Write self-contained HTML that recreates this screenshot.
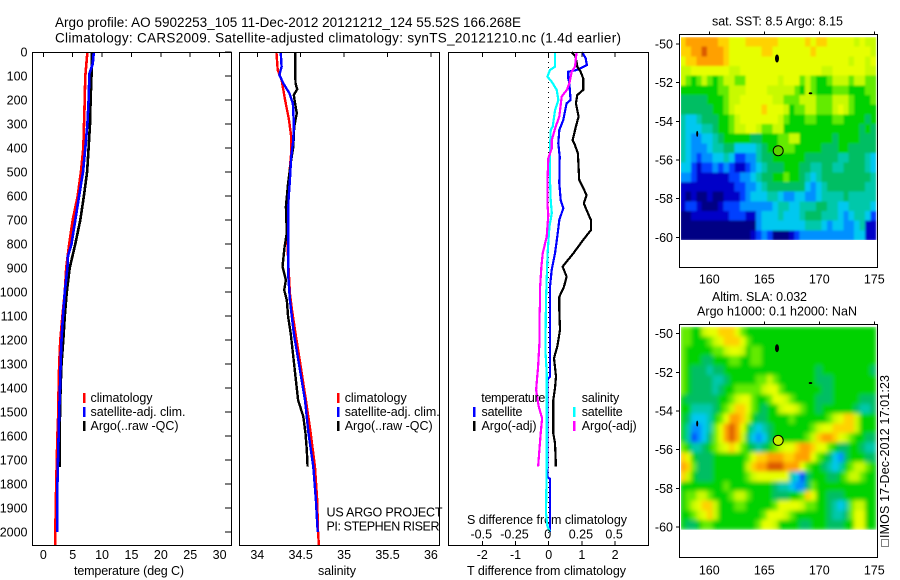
<!DOCTYPE html>
<html>
<head>
<meta charset="utf-8">
<title>Argo profile</title>
<style>
html,body{margin:0;padding:0;background:#fff;}
svg{display:block;font-family:"Liberation Sans",sans-serif;}
text{fill:#000;}
</style>
</head>
<body>
<svg id="chart" xmlns="http://www.w3.org/2000/svg" width="900" height="580" viewBox="0 0 900 580">
<defs>
<filter id="soft1" x="0" y="0" width="1" height="1"><feGaussianBlur stdDeviation="1" edgeMode="duplicate"/></filter>
<filter id="soft2" x="0" y="0" width="1" height="1"><feGaussianBlur stdDeviation="2.2" edgeMode="duplicate"/></filter>
<clipPath id="clip1"><rect x="681" y="37" width="196.5" height="203"/></clipPath>
<clipPath id="clip2"><rect x="681" y="326.7" width="196.5" height="203"/></clipPath>
</defs>
<rect width="900" height="580" fill="#fff"/>
<text x="55" y="27" font-size="13.5" textLength="466" lengthAdjust="spacing">Argo profile: AO 5902253_105 11-Dec-2012 20121212_124 55.52S 166.268E</text>
<text x="55" y="42.5" font-size="13.5" textLength="566" lengthAdjust="spacing">Climatology: CARS2009. Satellite-adjusted climatology: synTS_20121210.nc (1.4d earlier)</text>
<text x="712" y="25.5" font-size="12.5" textLength="131" lengthAdjust="spacing">sat. SST: 8.5 Argo: 8.15</text>
<text x="712" y="301" font-size="12.5" textLength="95" lengthAdjust="spacing">Altim. SLA: 0.032</text>
<text x="697" y="315.5" font-size="12.5" textLength="160" lengthAdjust="spacing">Argo h1000: 0.1 h2000: NaN</text>
<text x="326.5" y="516.5" font-size="12.5" textLength="116" lengthAdjust="spacing">US ARGO PROJECT</text>
<text x="326.5" y="530.5" font-size="12.5" textLength="113" lengthAdjust="spacing">PI: STEPHEN RISER</text>
<text x="467" y="524" font-size="12.5" textLength="160" lengthAdjust="spacing">S difference from climatology</text>
<text x="467" y="575" font-size="12.5" textLength="159" lengthAdjust="spacing">T difference from climatology</text>
<text x="74" y="575" font-size="12.5" textLength="110" lengthAdjust="spacing">temperature (deg C)</text>
<text x="318" y="575" font-size="12.5" textLength="38" lengthAdjust="spacing">salinity</text>
<text transform="translate(889 538) rotate(-90)" font-size="12.5" textLength="163" lengthAdjust="spacing">IMOS 17-Dec-2012 17:01:23</text>
<rect x="881.5" y="539.5" width="7" height="7" fill="none" stroke="#000" stroke-width="1" stroke-dasharray="1 1"/>
</svg>
<script>
// ---- Panel 1: temperature profiles (depth, deg C) ----
const climTempDepth = [0,100,250,400,500,600,700,800,900,1000,1100,1200,1300,1400,1500,1600,1800,2000,2055];
const climTemp = [7.5,7.15,7.0,6.8,6.4,5.85,5.0,4.4,3.9,3.65,3.25,2.9,2.7,2.6,2.55,2.4,2.2,2.05,2.0];
const satTempDepth = [0,50,90,200,300,400,500,600,700,800,850,900,1000,1100,1200,1300,1400,1500,1600,1700,1800,2000];
const satTemp = [8.6,8.4,7.85,7.7,7.5,7.15,6.75,6.1,5.45,4.8,4.2,4.1,3.65,3.35,3.1,2.95,2.85,2.7,2.6,2.5,2.4,2.4];
const argoTempDepth = [0,100,200,300,400,500,600,700,800,900,1000,1100,1200,1300,1400,1500,1600,1730];
const argoTemp = [8.25,8.2,8.05,7.95,7.7,7.45,6.9,6.3,5.45,4.5,4.0,3.65,3.4,3.1,2.95,2.85,2.8,2.8];

// ---- Panel 2: salinity profiles ----
const climSalDepth = [0,75,117,200,283,353,421,505,617,783,895,1005,1075,1172,1310,1450,1588,1730,1867,2005,2055];
const climSal = [34.22,34.235,34.28,34.32,34.365,34.39,34.39,34.37,34.345,34.345,34.36,34.375,34.40,34.44,34.5,34.56,34.615,34.665,34.69,34.70,34.71];
const satSalDepth = [0,61,96,130,172,214,297,367,436,533,617,783,922,1033,1172,1311,1450,1589,1728,1867,1992,2000];
const satSal = [34.27,34.28,34.255,34.30,34.37,34.41,34.42,34.415,34.39,34.375,34.36,34.355,34.355,34.375,34.42,34.485,34.55,34.59,34.645,34.675,34.695,34.695];
const argoSalDepth = [0,130,155,179,214,255,311,394,464,547,644,755,811,894,950,992,1033,1103,1172,1269,1353,1450,1519,1589,1658,1728];
const argoSal = [34.435,34.44,34.46,34.42,34.435,34.455,34.425,34.415,34.385,34.355,34.33,34.34,34.315,34.29,34.33,34.31,34.34,34.355,34.385,34.415,34.44,34.47,34.53,34.555,34.57,34.58];

// ---- Panel 3: differences from climatology ----
const diffSatTDepth = [0,25,55,75,82,110,130,200,214,283,325,381,436,547,617,651,700,769,839,908,978,1075,1172,1352,1366,1769,1779,1999];
const diffSatT = [1.0,1.11,1.15,0.84,0.59,0.59,0.62,0.66,0.54,0.44,0.32,0.29,0.33,0.32,0.36,0.44,0.32,0.26,0.19,0.09,0.04,0.04,0.04,0.04,-0.04,-0.04,0.04,0.04];
const diffArgoTDepth = [0,19,61,82,110,158,179,214,269,311,367,381,422,533,561,596,631,658,700,742,783,839,894,936,978,1020,1075,1158,1227,1276,1352,1401,1450,1589,1630,1700,1728];
const diffArgoT = [0.69,0.81,0.86,0.96,1.04,1.04,0.86,0.82,0.90,0.82,0.72,0.77,0.88,0.92,1.02,1.14,1.06,1.14,1.27,1.27,1.04,0.74,0.42,0.54,0.46,0.32,0.32,0.34,0.26,0.16,0.22,0.19,0.14,0.14,0.19,0.21,0.21];
const diffSatSDepth = [0,61,75,103,124,158,200,242,311,325,408,533,617,672,728,839,1033,1241,1339,1728,1922,1977,1998];
const diffSatS = [0.048,0.048,0.01,-0.01,0.023,0.06,0.073,0.048,0.03,0.015,0.01,0.01,0.015,0.023,0.005,-0.008,-0.02,-0.025,-0.015,-0.015,-0.02,-0.01,0.01];
const diffArgoSDepth = [0,61,82,130,158,186,269,318,367,401,443,547,631,679,769,839,894,978,1033,1116,1214,1311,1408,1477,1526,1589,1658,1728];
const diffArgoS = [0.21,0.198,0.173,0.156,0.136,0.098,0.08,0.048,0.023,0.023,-0.003,-0.01,-0.01,-0.003,-0.015,-0.045,-0.055,-0.065,-0.065,-0.07,-0.07,-0.08,-0.095,-0.075,-0.05,-0.06,-0.07,-0.08];

// ---- Tick labels ----
const depthTicks = [0,100,200,300,400,500,600,700,800,900,1000,1100,1200,1300,1400,1500,1600,1700,1800,1900,2000];
const tempTicks = [0,5,10,15,20,25,30];
const salTicks = [34,34.5,35,35.5,36];
const tDiffTicks = [-2,-1,0,1,2];
const sDiffTicks = [-0.5,-0.25,0,0.25,0.5];
const sDiffTickText = ["-0.5","-0.25","0","0.25","0.5"];
const lonTicks = [160,165,170,175];
const latTicks = [-50,-52,-54,-56,-58,-60];

// ---- Map cells: one hex digit per 0.5 degree cell, index into the colour scale ----
const sstRows = [
"bccccc cbbaaa bbbbbb aaaaab abbaaa aa9a99",
"bbccdc ccbaaa aaabba aaaaaa baaaaa aaaaa9",
"abbccc ccbaaa aaaaaa aaaaaa aaaaaa a9aa9a",
"99aaaa aaa99a aaaaaa aaaaaa aa99aa aaaa99",
"987898 789988 aaaaaa 9aaa89 877899 989988",
"777777 788999 aaaa99 999879 877788 877788",
"666667 77899a aaaaa9 988899 988899 987778",
"666666 7789aa aaabaa a97889 98889a 987777",
"544566 67789a aaaaaa 987778 877788 777767",
"544455 677899 aa9889 977777 777777 777676",
"543344 567777 766777 889977 777767 777666",
"543334 556644 445677 888777 776667 766666",
"543233 445422 335667 777776 666665 566654",
"442122 323211 234566 677766 556655 666654",
"332111 111223 345667 787765 456666 666665",
"111111 111122 334566 666664 345666 666655",
"101001 001112 344455 433443 345555 655555",
"122100 012223 333334 554455 566554 455554",
"001111 111222 113444 544456 665554 345542",
"000000 000000 003444 444445 554344 334511",
"000000 000000 012320 001233 333333 334411"
];
const slaRows = [
"88779a abbba8 777777 777777 777777 777777",
"887778 9abbba 877777 777777 777777 777777",
"877777 889aa9 788777 777777 777777 777777",
"877766 777887 788777 777777 777777 777777",
"876665 667777 777777 777777 767777 777776",
"876666 556777 778898 777777 766677 777777",
"876666 567788 8889aa 877777 776677 777777",
"766666 67789a a8778a a98777 766677 777666",
"775555 6789bb a87677 9aa987 767777 776556",
"764445 78accb 976677 778777 77789a bb9777",
"753345 8acdca 754567 777777 89aabb bb9777",
"752346 8acdc9 643467 777778 9bccba 987766",
"875567 89aba8 765678 9aabcc baa876 677655",
"ba7666 777777 8abbcc cbbccc a87643 677766",
"cb8666 777777 9bccdd dccca8 776545 789987",
"b97666 777777 89aaaa aa5426 777667 899877",
"777777 778777 777776 554336 877777 777777",
"788998 777899 877776 66778b a77666 777777",
"789abb 977788 777778 aaaa98 877654 589977",
"7789ab 977777 7778aa a98777 777655 68aa77",
"766788 777777 778aa9 777766 777666 77aa77"
];
const colorScale = ["#000084","#0000c8","#0040ff","#0090ff","#00c8f0","#00c8aa","#00be64","#00d200","#64eb00","#c8fa00","#e6ff00","#ffd200","#ffa000","#dc5a00"];

// ---- Argo float positions and coastline specks on the maps ----
const floatLon = 166.268;
const floatLat = -55.52;
const islandLon = [166.15,169.2,158.9];
const islandLat = [-50.75,-52.55,-54.65];

const NS = "http://www.w3.org/2000/svg";
const svg = document.getElementById("chart");
const plotTop = 52;
const yPerDepth = 0.24;
function yDepth(d){ return plotTop + d*yPerDepth; }
function xTemp(t){ return 43.3 + t*5.877; }
function xSal(s){ return 257.3 + (s-34)*86.8; }
function xT(t){ return 548.7 + t*33.2; }
function xS(s){ return 548.7 + s*132.8; }
function xLon(l){ return 709.3 + (l-160)*11; }
function yLat1(l){ return 44 + (-50-l)*19.33; }
function yLat2(l){ return 333.7 + (-50-l)*19.33; }

function make(tag, attrs){
  const el = document.createElementNS(NS, tag);
  for(const k in attrs){ el.setAttribute(k, attrs[k]); }
  svg.appendChild(el);
  return el;
}
function drawProfile(depths, values, xFn, color, width, name){
  const pts = depths.map(function(d,i){ return xFn(values[i]).toFixed(1)+","+yDepth(d).toFixed(1); }).join(" ");
  const el = make("polyline",{points:pts,fill:"none",stroke:color,"stroke-width":width,"shape-rendering":"crispEdges"});
  
  
}
function label(x,y,str,anchor,size,len,name){
  const el = make("text",{x:x,y:y,"font-size":size,"text-anchor":anchor});
  if(len){ el.setAttribute("textLength",len); el.setAttribute("lengthAdjust","spacing"); }
  el.textContent = str;
  
  
}
function tick(x1,y1,x2,y2,name){
  const el = make("line",{x1:x1,y1:y1,x2:x2,y2:y2,stroke:"#000","stroke-width":1,"shape-rendering":"crispEdges"});
  
  
}
function frame(x,y,w,h,name){
  const el = make("rect",{x:x,y:y,width:w,height:h,fill:"none",stroke:"#000","stroke-width":1,"shape-rendering":"crispEdges"});
  
  
}
function legendKey(x,y,color,name){
  const el = make("rect",{x:x-1,y:y,width:2.5,height:10,fill:color,"shape-rendering":"crispEdges"});
  
  
}
function drawMap(rows, yFn, name, clipId, filterId){
  const outer = make("g",{"clip-path":"url(#"+clipId+")"});
  
  
  const group = make("g",{filter:"url(#"+filterId+")"});
  
  
  outer.appendChild(group);
  const lonStart = 157.33, lonStep = 0.495, latStart = -49.64, latStep = 0.5;
  rows.forEach(function(row,j){
    const cells = row.replace(/ /g,"");
    for(let i=0;i<cells.length;i++){
      const x0 = xLon(lonStart+i*lonStep), x1 = xLon(lonStart+(i+1)*lonStep);
      const y0 = yFn(latStart-j*latStep), y1 = yFn(latStart-(j+1)*latStep);
      const el = make("rect",{x:x0.toFixed(2),y:y0.toFixed(2),width:(x1-x0+0.4).toFixed(2),height:(y1-y0+0.4).toFixed(2),fill:colorScale[parseInt(cells[i],16)],"shape-rendering":"crispEdges"});
      
      
      group.appendChild(el);
    }
  });
}
function drawMapOverlay(yFn, top, bottom, fill, prefix, labelGap){
  islandLon.forEach(function(lon,i){
    const big = i===0;
    const el = make("ellipse",{cx:xLon(lon).toFixed(1),cy:yFn(islandLat[i]).toFixed(1),rx:big?2:(i===1?1.8:1),ry:big?4:(i===1?1:3),fill:"#000"});
    
    
  });
  const c = make("circle",{cx:xLon(floatLon).toFixed(1),cy:yFn(floatLat).toFixed(1),r:5,fill:fill,stroke:"#000","stroke-width":1});
  
  
  frame(679.5,top,198,bottom-top,prefix+"-map-frame");
  lonTicks.forEach(function(l){
    tick(xLon(l),top-3,xLon(l),top,"lon-tick");
    label(xLon(l),bottom+labelGap,String(l),"middle",12.5,0,"lon-tick-label");
  });
  latTicks.forEach(function(l){
    tick(676,yFn(l),679.5,yFn(l),"lat-tick");
    label(673,yFn(l)+4.5,String(l),"end",12.5,0,"lat-tick-label");
  });
}

// Panel 1
drawProfile(climTempDepth,climTemp,xTemp,"#ff0000",2.6,"temperature-climatology-line");
drawProfile(argoTempDepth,argoTemp,xTemp,"#000000",2.6,"temperature-argo-line");
drawProfile(satTempDepth,satTemp,xTemp,"#0000ff",2.6,"temperature-satellite-line");
frame(32.5,52.5,199,493,"temperature-panel-frame");
tempTicks.forEach(function(t){
  tick(xTemp(t),52.5,xTemp(t),57,"temperature-tick");
  label(xTemp(t),559,String(t),"middle",12.5,0,"temperature-tick-label");
});
depthTicks.forEach(function(d){
  tick(225,yDepth(d),231.5,yDepth(d),"depth-tick");
  label(27.5,yDepth(d)+4.5,String(d),"end",12.5,0,"depth-tick-label");
});
legendKey(84,393,"#ff0000","legend-key-climatology");
legendKey(84,407,"#0000ff","legend-key-satellite-adj");
legendKey(84,421,"#000000","legend-key-argo");
label(90.5,402,"climatology","start",12.5,62,"legend-label-climatology");
label(90.5,416,"satellite-adj. clim.","start",12.5,95,"legend-label-satellite-adj");
label(90.5,430,"Argo(..raw -QC)","start",12.5,88,"legend-label-argo");

// Panel 2
drawProfile(climSalDepth,climSal,xSal,"#ff0000",2.4,"salinity-climatology-line");
drawProfile(argoSalDepth,argoSal,xSal,"#000000",2.4,"salinity-argo-line");
drawProfile(satSalDepth,satSal,xSal,"#0000ff",2.4,"salinity-satellite-line");
frame(239.5,52.5,200,493,"salinity-panel-frame");
salTicks.forEach(function(s){
  tick(xSal(s),52.5,xSal(s),57,"salinity-tick");
  label(xSal(s),559,String(s),"middle",12.5,0,"salinity-tick-label");
});
legendKey(338,393,"#ff0000","legend-key-climatology");
legendKey(338,407,"#0000ff","legend-key-satellite-adj");
legendKey(338,421,"#000000","legend-key-argo");
label(344.7,402,"climatology","start",12.5,62,"legend-label-climatology");
label(344.7,416,"satellite-adj. clim.","start",12.5,95,"legend-label-satellite-adj");
label(344.7,430,"Argo(..raw -QC)","start",12.5,88,"legend-label-argo");

// Panel 3
const zeroLine = make("line",{x1:xT(0),y1:52,x2:xT(0),y2:545,stroke:"#000","stroke-width":1,"stroke-dasharray":"1 4","shape-rendering":"crispEdges"});


drawProfile(diffSatTDepth,diffSatT,xT,"#0000ff",2.2,"t-diff-satellite-line");
drawProfile(diffArgoTDepth,diffArgoT,xT,"#000000",2.2,"t-diff-argo-line");
drawProfile(diffSatSDepth,diffSatS,xS,"#00ffff",2.2,"s-diff-satellite-line");
drawProfile(diffArgoSDepth,diffArgoS,xS,"#ff00ff",2.2,"s-diff-argo-line");
frame(448.5,52.5,200,493,"difference-panel-frame");
tDiffTicks.forEach(function(t){
  tick(xT(t),52.5,xT(t),57,"t-diff-tick");
  label(xT(t),559,String(t),"middle",12.5,0,"t-diff-tick-label");
});
sDiffTicks.forEach(function(s,i){
  tick(xS(s),541,xS(s),545.5,"s-diff-tick");
  label(xS(s)-1,538.5,sDiffTickText[i],"middle",12.5,0,"s-diff-tick-label");
});
label(481.3,402,"temperature","start",12.5,64,"legend-heading-temperature");
label(481.5,416,"satellite","start",12.5,41,"legend-label-t-satellite");
label(481.5,430,"Argo(-adj)","start",12.5,55,"legend-label-t-argo");
label(581.7,402,"salinity","start",12.5,37.5,"legend-heading-salinity");
label(581.7,416,"satellite","start",12.5,41,"legend-label-s-satellite");
label(581.7,430,"Argo(-adj)","start",12.5,55,"legend-label-s-argo");
legendKey(474,407,"#0000ff","legend-key-t-satellite");
legendKey(474,421,"#000000","legend-key-t-argo");
legendKey(574,407,"#00ffff","legend-key-s-satellite");
legendKey(574,421,"#ff00ff","legend-key-s-argo");

// Maps
drawMap(sstRows,yLat1,"sst-cell","clip1","soft1");
drawMapOverlay(yLat1,34.5,267.5,"#5ad200","sst",16);
drawMap(slaRows,yLat2,"sla-cell","clip2","soft2");
drawMapOverlay(yLat2,324.5,557.5,"#c8f000","sla",17);
</script>
</body>
</html>
